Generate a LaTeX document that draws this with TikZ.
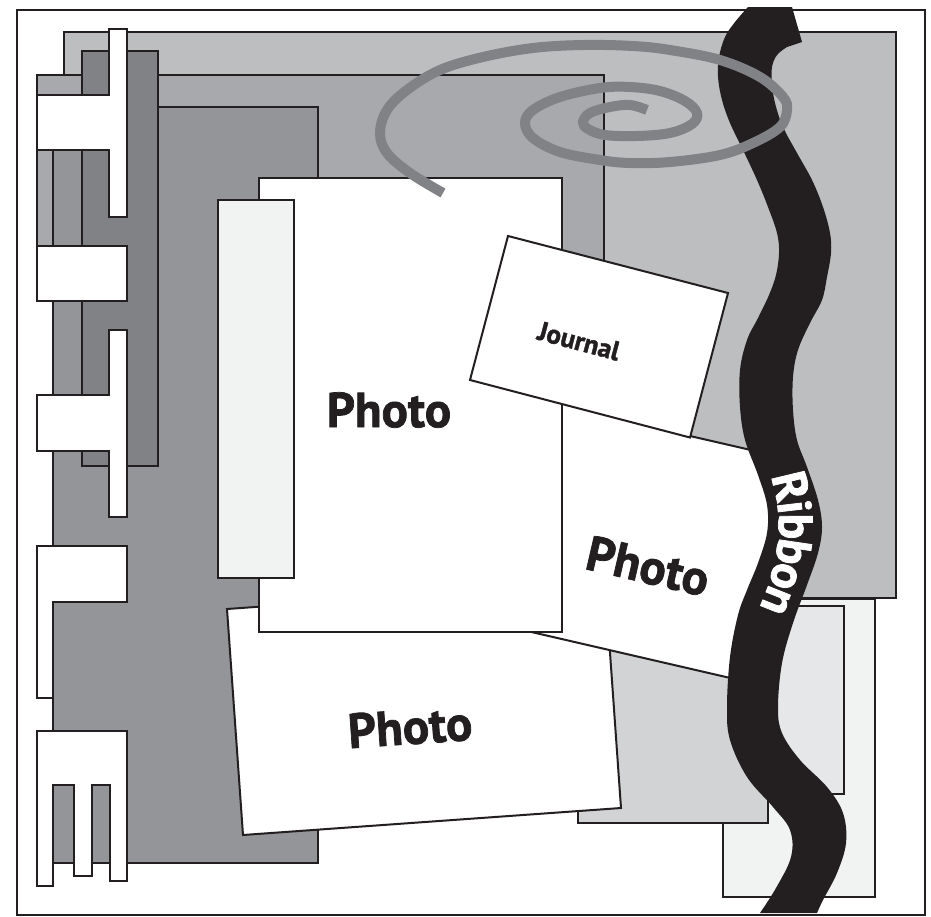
\documentclass[tikz,border=0pt]{standalone}
\usepackage{fontspec}
\setmainfont{PT Sans}[BoldFeatures={FakeBold=1.5}]
\usetikzlibrary{decorations.text}
\definecolor{ink}{HTML}{231F20}
\definecolor{gA}{HTML}{BCBEC0}
\definecolor{gB}{HTML}{A7A9AC}
\definecolor{gC}{HTML}{939598}
\definecolor{gD}{HTML}{808285}
\definecolor{gE}{HTML}{F1F2F2}
\definecolor{gF}{HTML}{D1D3D4}
\definecolor{gG}{HTML}{E6E7E8}
\begin{document}
\begin{tikzpicture}[x=1pt,y=-1pt,line join=miter,
  ln/.style={draw=ink,line width=2pt},
  panel/.style={ln,fill=#1},
  card/.style={ln,fill=white},
  phototext/.style={font=\fontsize{49}{49}\selectfont\bfseries,text=ink,inner sep=0pt},
  spiralline/.style={draw=gD,line width=10pt,line cap=butt}]
\useasboundingbox (0,0) rectangle (931,916);
\fill[white] (0,0) rectangle (931,916);
\draw[ln] (17,10) rectangle (925,915);
% lower right layers
\filldraw[panel=gE] (723,599) rectangle (875,897);
\filldraw[panel=gG] (730,606) rectangle (844,794);
\filldraw[panel=gF] (578,600) rectangle (768,823);
% big grey layers
\filldraw[panel=gA] (64,32) rectangle (896,598);
\filldraw[panel=gB] (37,75) rectangle (604,280);
\filldraw[panel=gC] (53,107) rectangle (318,863);
\filldraw[panel=gD] (82,51) rectangle (158,466);
% white tabs
\filldraw[card] (109,29) -- (127,29) -- (127,217) -- (109,217) -- (109,150) -- (37,150) -- (37,95) -- (109,95) -- cycle;
\filldraw[card] (37,246) rectangle (127,301);
\filldraw[card] (109,330) -- (127,330) -- (127,517) -- (109,517) -- (109,451) -- (37,451) -- (37,395) -- (109,395) -- cycle;
\filldraw[card] (37,546) -- (127,546) -- (127,602) -- (53,602) -- (53,698) -- (37,698) -- cycle;
\filldraw[card] (37,731) -- (127,731) -- (127,881) -- (110,881) -- (110,785) -- (92,785) -- (92,876) -- (74,876) -- (74,785) -- (53,785) -- (53,886) -- (37,886) -- cycle;
% photos
\filldraw[card] (227,609) -- (605,582) -- (621,808) -- (243,835) -- cycle;
\filldraw[card] (537,397) -- (690,436) -- (790,459) -- (739,680) -- (486,621.5) -- cycle;
\filldraw[card] (259,178) rectangle (562,632);
\filldraw[panel=gE] (218,200) rectangle (294,578);
\filldraw[card] (508,236) -- (728,293) -- (690,437.5) -- (470,380) -- cycle;
% texts
\node[phototext] (pmain) at (389,410) {Photo};
\node[phototext,rotate=-13] (pright) at (648,566) {Photo};
\node[phototext,rotate=4] (pbottom) at (410,727) {Photo};
\node[font=\fontsize{27}{27}\selectfont\bfseries,text=ink,rotate=-15] (journal) at (579,341) {Journal};
% ribbon
\fill[ink] plot[smooth,tension=0.6] coordinates {(748,7) (735,22) (725,37) (719,57) (718,77) (722,100) (730,123) (743,150) (757,180) (768,207) (777,233) (779,253) (776,275) (769,295) (758,318) (747,340) (740,370) (740,407) (745,440) (758,475) (767,505) (767,533) (758,563) (747,590) (738,615) (730,657) (727,707) (730,740) (747,777) (773,807) (790,830) (791,857) (776,888) (760,913)}
 -- plot[smooth,tension=0.6] coordinates {(817,913) (823,900) (837,873) (846,843) (843,813) (827,787) (800,760) (782,733) (778,707) (782,663) (793,623) (807,585) (818,553) (822,527) (818,500) (807,467) (797,440) (793,410) (793,377) (798,350) (810,323) (822,300) (827,277) (831,253) (830,233) (823,207) (812,180) (797,153) (783,127) (775,103) (772,83) (772,67) (777,55) (787,47)}
 -- (802,42) -- (792,7) -- cycle;
\path[decorate,decoration={text along path,text align=center,raise=-16pt,
  text={|\fontsize{48}{48}\selectfont\bfseries\color{white}|Ribbon}}]
  (773,440) .. controls (802,500) and (807,560) .. (758,645);
% spiral
\draw[spiralline] plot[smooth,tension=0.6] coordinates {(443,193) (410,173) (387,153) (380,133) (387,110) (407,90) (440,70) (483,57) (533,48) (583,45) (633,46) (670,50) (720,60) (760,77) (783,97) (787,110) (780,127) (753,143) (720,155) (670,162) (630,163) (600,160) (560,152) (533,138) (525,123) (533,110) (560,97) (600,88) (630,87) (660,91) (685,101) (697,113) (692,124) (670,133) (637,136) (605,135) (588,129) (583,122) (590,113) (610,107) (630,105) (647,110)};
\end{tikzpicture}
\end{document}
